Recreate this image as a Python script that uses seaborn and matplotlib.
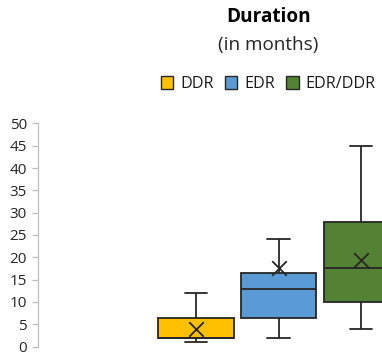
import numpy as np
import pandas as pd
import matplotlib
matplotlib.use("Agg")
import matplotlib.pyplot as plt
import matplotlib.patches as mpatches
import seaborn as sns

categories = ["DDR", "EDR", "EDR/DDR"]
# five-number summaries: min, Q1, median, Q3, max
w_low = [1, 2, 4]
q1 = [2, 6.5, 10]
median = [2, 13, 17.5]
q3 = [6.5, 16.5, 28]
w_high = [12, 24, 45]
means = [4, 17.5, 19.5]
colors = ["#FFC000", "#5B9BD5", "#548235"]
yticks = list(range(0, 51, 5))

rows = []
for i, c in enumerate(categories):
    for v in (w_low[i], q1[i], median[i], q3[i], w_high[i]):
        rows.append({"group": c, "months": v})
df = pd.DataFrame(rows)
mean_df = pd.DataFrame({"group": categories, "months": means})

sns.set_theme(style="white")
plt.rcParams["font.family"] = ["Open Sans", "DejaVu Sans"]

fig = plt.figure(figsize=(3.82, 3.56), dpi=100)
ax = fig.add_axes([38 / 382, (356 - 346.5) / 356, 1 - 38 / 382, (346.5 - 123.5) / 356])

edge = "#262626"
sns.boxplot(data=df, x="group", y="months", hue="group", order=categories,
            palette=colors, saturation=1, whis=np.inf, width=0.91,
            linecolor=edge, linewidth=1.3, legend=False, ax=ax,
            capwidths=0.27)
sns.scatterplot(data=mean_df, x="group", y="months", marker="x", color=edge,
                s=110, linewidth=1.3, ax=ax, zorder=5, legend=False)

ax.set_xlim(-1.91, 2.25)
ax.set_ylim(0, 50)
ax.set_yticks(yticks)
ax.set_yticklabels([str(t) for t in yticks], fontsize=11, color="#262626")
ax.set_xticks([])
ax.set_xlabel("")
ax.set_ylabel("")
for s in ["top", "right", "bottom"]:
    ax.spines[s].set_visible(False)
ax.spines["left"].set_color("#BFBFBF")
ax.spines["left"].set_linewidth(0.9)
ax.tick_params(axis="y", left=True, length=4, width=0.9, color="#BFBFBF", pad=4)
ax.patch.set_alpha(0)

fig.text(269 / 382, 1 - 17 / 356, "Duration", ha="center", va="center",
         fontsize=13.7, fontweight="bold", color="#000000")
fig.text(268 / 382, 1 - 45 / 356, "(in months)", ha="center", va="center",
         fontsize=13.6, color="#262626")

handles = [mpatches.Patch(facecolor=c, edgecolor=edge, linewidth=1.0, label=l)
           for c, l in zip(colors, categories)]
fig.legend(handles=handles, loc="center left", bbox_to_anchor=(161 / 382, 1 - 84 / 356),
           ncol=3, frameon=False, fontsize=11.6, handlelength=0.76, handleheight=0.85,
           handletextpad=0.42, columnspacing=0.72, borderaxespad=0, borderpad=0,
           labelcolor="#1a1a1a")

fig.savefig("out.png", dpi=100)
